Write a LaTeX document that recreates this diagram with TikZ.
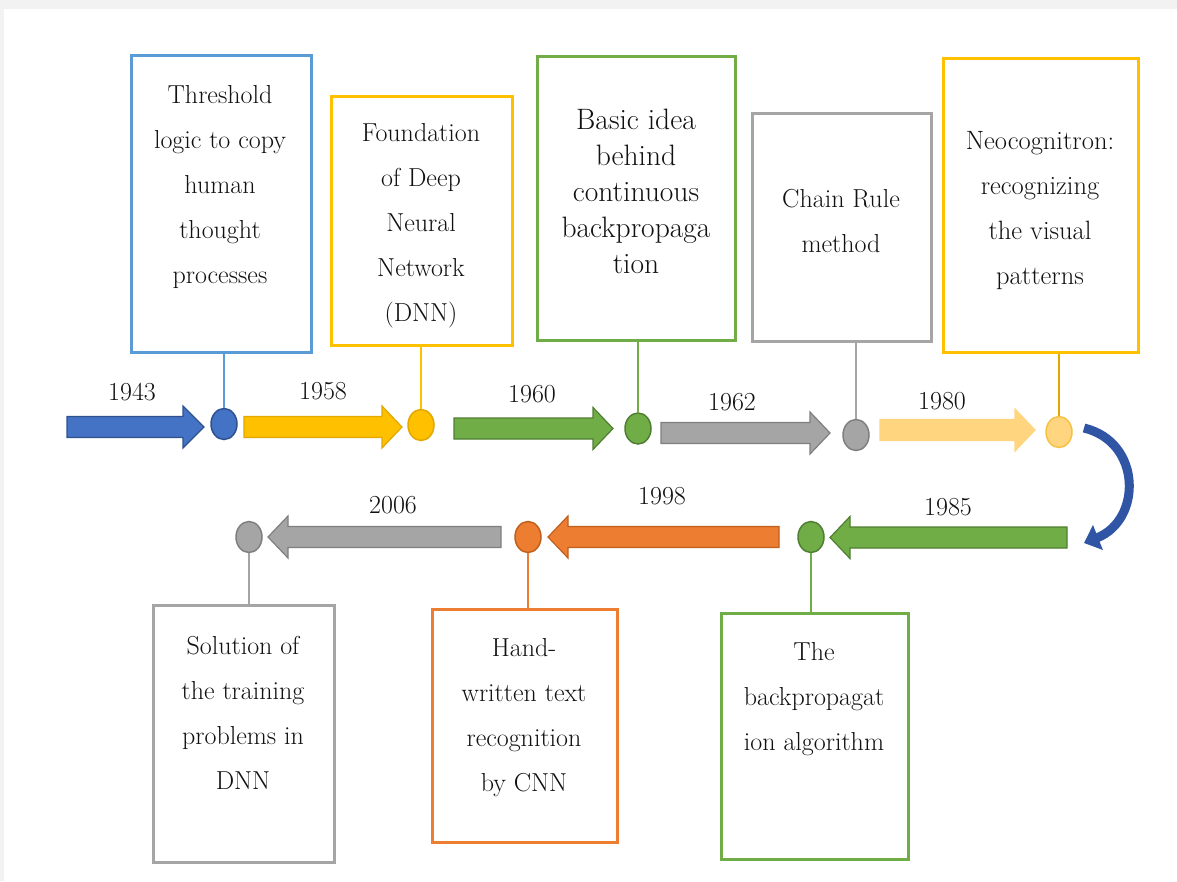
\documentclass[tikz,border=0pt]{standalone}
\usetikzlibrary{shapes.geometric,arrows.meta}
\definecolor{bgc}{HTML}{F2F2F2}
\definecolor{txtc}{HTML}{111111}
\definecolor{bluebox}{HTML}{5B9BD5}
\definecolor{bluef}{HTML}{4472C4}
\definecolor{blued}{HTML}{2F528F}
\definecolor{yel}{HTML}{FFC000}
\definecolor{yeld}{HTML}{E0A800}
\definecolor{grn}{HTML}{70AD47}
\definecolor{grnd}{HTML}{507E32}
\definecolor{gry}{HTML}{A5A5A5}
\definecolor{gryd}{HTML}{7F7F7F}
\definecolor{lyel}{HTML}{FFD580}
\definecolor{lyeld}{HTML}{F5C242}
\definecolor{org}{HTML}{ED7D31}
\definecolor{orgd}{HTML}{C0601F}
\definecolor{curv}{HTML}{2F55A4}
\newcommand\blockarr[5]{% style, x start, x head base, x tip, y
  \filldraw[#1] (#2,#5-10.5) -- (#3,#5-10.5) -- (#3,#5-21) -- (#4,#5) -- (#3,#5+21) -- (#3,#5+10.5) -- (#2,#5+10.5) -- cycle;}
\tikzset{
  tbox/.style={draw=#1,line width=3pt,fill=white,inner sep=0pt},
  dot/.style={ellipse,minimum width=26pt,minimum height=31pt,inner sep=0pt,line width=1.5pt},
  txt/.style={font=\fontsize{26}{45}\selectfont,align=center,text=txtc,inner sep=0pt},
  yr/.style={font=\fontsize{26}{30}\selectfont,text=txtc,inner sep=0pt},
  stem/.style={line width=2.5pt,draw=#1},
  arrstyle/.style 2 args={fill=#1,draw=#2,line width=1.2pt,line join=miter}
}
\begin{document}
\begin{tikzpicture}[x=1pt,y=-1pt]
\useasboundingbox (0,0) rectangle (1177,881);
\fill[bgc] (0,0) rectangle (1177,881);
\fill[white] (4,9) rectangle (1177,881);

% top boxes
\node[tbox=bluebox,minimum width=180pt,minimum height=297pt] (b1) at (221,203.5) {};
\node[tbox=yel,minimum width=181pt,minimum height=249pt] (b2) at (421.5,220.5) {};
\node[tbox=grn,minimum width=198pt,minimum height=284pt] (b3) at (636,198) {};
\node[tbox=gry,minimum width=179pt,minimum height=228pt] (b4) at (841.5,227) {};
\node[tbox=yel,minimum width=195pt,minimum height=294pt] (b5) at (1040.5,205) {};
% bottom boxes
\node[tbox=gry,minimum width=181pt,minimum height=257pt] (b6) at (243.5,733.5) {};
\node[tbox=org,minimum width=185pt,minimum height=233pt] (b7) at (524.5,725.5) {};
\node[tbox=grn,minimum width=187pt,minimum height=246pt] (b8) at (814.5,736) {};

% texts
\node[txt] (t1) at (220,187) {Threshold\\logic to copy\\human\\thought\\processes};
\node[txt] (t2) at (421,226) {Foundation\\of Deep\\Neural\\Network\\(DNN)};
\node[txt,font=\fontsize{29.5}{36}\selectfont] (t3) at (636,191) {Basic idea\\behind\\continuous\\backpropaga\\tion};
\node[txt] (t4) at (841,221) {Chain Rule\\method};
\node[txt,font=\fontsize{26.5}{45}\selectfont] (t5) at (1040,211) {Neocognitron:\\recognizing\\the visual\\patterns};
\node[txt] (t6) at (243,713) {Solution of\\the training\\problems in\\DNN};
\node[txt] (t7) at (524,718) {Hand-\\written text\\recognition\\by CNN};
\node[txt] (t8) at (814,699) {The\\backpropagat\\ion algorithm};

% block arrows
\blockarr{arrstyle={bluef}{blued}}{67}{183}{204}{427}
\blockarr{arrstyle={yel}{yeld}}{244}{382}{402}{427}
\blockarr{arrstyle={grn}{grnd}}{454}{593}{613}{428.5}
\blockarr{arrstyle={gry}{gryd}}{661}{810}{830}{433}
\blockarr{arrstyle={lyel}{lyel}}{880}{1015}{1035}{430}
\blockarr{arrstyle={grn}{grnd}}{1067}{850}{830}{537.5}
\blockarr{arrstyle={org}{orgd}}{779}{568}{548}{537}
\blockarr{arrstyle={gry}{gryd}}{501}{288}{268}{537}

% dots
\node[dot,fill=bluef,draw=blued] (c1) at (224,424) {};
\node[dot,fill=yel,draw=yeld] (c2) at (421,425) {};
\node[dot,fill=grn,draw=grnd] (c3) at (638,428.5) {};
\node[dot,fill=gry,draw=gryd] (c4) at (856,435) {};
\node[dot,fill=lyel,draw=lyeld] (c5) at (1059,432) {};
\node[dot,fill=grn,draw=grnd] (c6) at (811,537) {};
\node[dot,fill=org,draw=orgd] (c7) at (528,537) {};
\node[dot,fill=gry,draw=gryd] (c8) at (249,537) {};

% stems
\draw[stem=bluebox] (c1.north) -- (c1.north |- b1.south);
\draw[stem=yel] (c2.north) -- (c2.north |- b2.south);
\draw[stem=grn] (c3.north) -- (c3.north |- b3.south);
\draw[stem=gry] (c4.north) -- (c4.north |- b4.south);
\draw[stem=yeld] (c5.north) -- (c5.north |- b5.south);
\draw[stem=grn] (c6.south) -- (c6.south |- b8.north);
\draw[stem=org] (c7.south) -- (c7.south |- b7.north);
\draw[stem=gry] (c8.south) -- (c8.south |- b6.north);

% years
\node[yr] (y1) at (132,392) {1943};
\node[yr] (y2) at (323,391) {1958};
\node[yr] (y3) at (532,394) {1960};
\node[yr] (y4) at (732,402) {1962};
\node[yr] (y5) at (942,401) {1980};
\node[yr] (y6) at (948,507) {1985};
\node[yr] (y7) at (662,496) {1998};
\node[yr] (y8) at (393,505) {2006};

% curved arrow
\coordinate (cs) at (1084,428);
\coordinate (ce) at (1084,543);
\draw[curv,line width=9pt,-{Triangle[length=15pt,width=26pt]}] (cs) .. controls (1142,442) and (1142,520) .. (ce);
\end{tikzpicture}
\end{document}
